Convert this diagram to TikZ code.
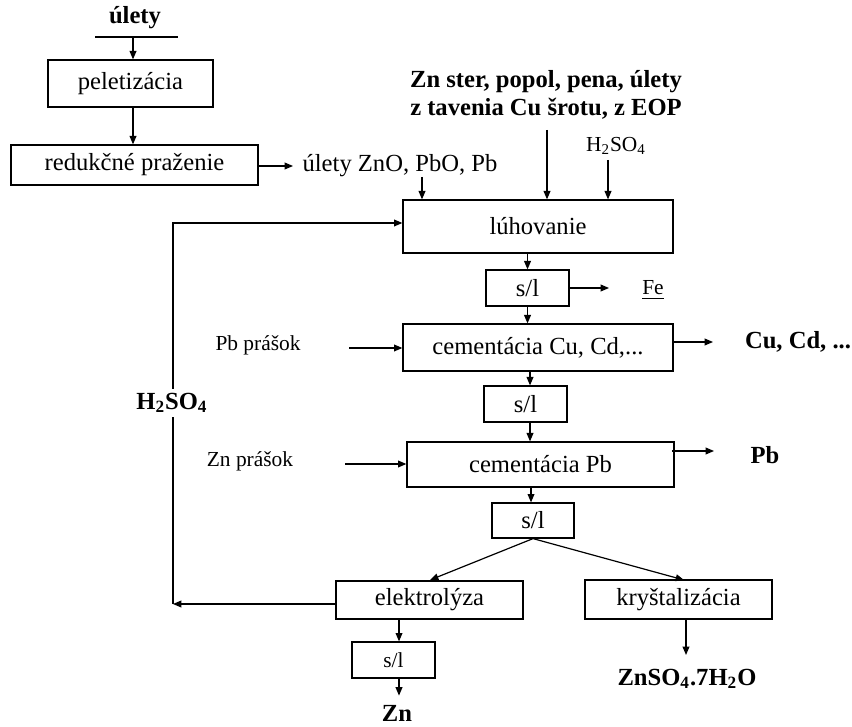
\documentclass[tikz,border=0pt]{standalone}
\usepackage{fontspec}
\setmainfont{Liberation Serif}
\usepackage{tikz}
\usetikzlibrary{arrows.meta, positioning, calc}

\begin{document}
\begin{tikzpicture}[x=0.5pt, y=-0.5pt, line width=0.6pt,
    >={Triangle[length=4.2pt, width=3.4pt]},
    every node/.style={font=\fontsize{12.3}{14}\selectfont, inner sep=0pt},
    proc/.style={draw, fill=white},
    small/.style={font=\fontsize{10.7}{13}\selectfont},
    prod/.style={font=\fontsize{12.3}{14}\selectfont\bfseries}]

    \useasboundingbox (0,0) rectangle (852,727);

    % ============================================================
    % PELETIZATION AND REDUCTION ROASTING
    % ============================================================
    \node[prod] (ulety) at (135,18) {úlety};
    \coordinate (ulL) at (95,37);
    \coordinate (ulR) at (178,37);
    \coordinate (ulA) at (133,37);
    \draw (ulL) -- (ulR);

    \node[proc, minimum width=82.5pt, minimum height=23.5pt]
        (pelet) at (130.5,83.5) {peletizácia};
    \node[proc, minimum width=123.5pt, minimum height=20pt]
        (redukc) at (134.5,165) {redukčné praženie};
    \node[anchor=west] (ulZnO) at (302,166) {úlety ZnO, PbO, Pb};

    \draw[->] (ulA) -- (ulA |- pelet.north);
    \draw[->] (ulA |- pelet.south) -- (ulA |- redukc.north);
    \coordinate (redA) at (293,166);
    \draw[->] (redukc.east |- redA) -- (redA);

    % ============================================================
    % LEACHING
    % ============================================================
    \node[prod, align=center] (zster) at (546,95)
        {Zn ster, popol, pena, úlety\\z tavenia Cu šrotu, z EOP};
    \node[small] (hsoTop) at (616,146) {H\textsubscript{2}SO\textsubscript{4}};
    \node[proc, minimum width=135pt, minimum height=26.5pt]
        (luhov) at (538,226.5) {lúhovanie};

    \coordinate (znoA) at (422,177);
    \coordinate (zsA) at (547,130);
    \coordinate (hsA) at (608,160);
    \draw[->] (znoA) -- (znoA |- luhov.north);
    \draw[->] (zsA) -- (zsA |- luhov.north);
    \draw[->] (hsA) -- (hsA |- luhov.north);

    % ============================================================
    % SEPARATION OF Fe
    % ============================================================
    \node[proc, minimum width=41.5pt, minimum height=18pt]
        (sl1) at (527.5,288) {s/l};
    \node (fe) at (653,290) {\fontsize{10.7}{13}\selectfont\underline{Fe}};
    \coordinate (feA) at (609,288);

    \draw[->] (sl1.north |- luhov.south) -- (sl1.north);
    \draw[->] (sl1.east) -- (feA);

    % ============================================================
    % CEMENTATION Cu, Cd
    % ============================================================
    \node[small] (pbPras) at (258,345) {Pb prášok};
    \node[proc, minimum width=135pt, minimum height=23.5pt]
        (cemCu) at (538,347.5) {cementácia Cu, Cd,...};
    \node[prod] (cucd) at (798,342) {Cu, Cd, ...};
    \node[proc, minimum width=41.5pt, minimum height=18pt]
        (sl2) at (525.5,404) {s/l};

    \coordinate (pbA) at (349,348);
    \coordinate (cuA) at (673,342);
    \coordinate (cuB) at (713,342);
    \coordinate (cmA) at (530,371);
    \draw[->] (sl1.south) -- (sl1.south |- cemCu.north);
    \draw[->] (pbA) -- (pbA -| cemCu.west);
    \draw[->] (cuA) -- (cuB);
    \draw[->] (cmA |- cemCu.south) -- (cmA |- sl2.north);

    % ============================================================
    % CEMENTATION Pb
    % ============================================================
    \node[small] (znPras) at (250,461) {Zn prášok};
    \node[proc, minimum width=133.5pt, minimum height=22.5pt]
        (cemPb) at (540.5,464.5) {cementácia Pb};
    \node[prod] (pb) at (765,455) {Pb};
    \node[proc, minimum width=41pt, minimum height=17.5pt]
        (sl3) at (533,520.5) {s/l};

    \coordinate (znA) at (345,464);
    \coordinate (pbB) at (672,451);
    \coordinate (pbC) at (714,451);
    \coordinate (cpA) at (531,487);
    \draw[->] (cmA |- sl2.south) -- (cmA |- cemPb.north);
    \draw[->] (znA) -- (znA -| cemPb.west);
    \draw[->] (pbB) -- (pbC);
    \draw[->] (cpA) -- (cpA |- sl3.north);

    % ============================================================
    % ELECTROLYSIS / CRYSTALLIZATION
    % ============================================================
    \node[proc, minimum width=93.5pt, minimum height=19pt]
        (elektr) at (429.5,600) {elektrolýza};
    \node[proc, minimum width=93.5pt, minimum height=19.5pt]
        (kryst) at (678.5,599.5) {kryštalizácia};
    \node[proc, small, minimum width=41.5pt, minimum height=18pt]
        (sl4) at (393.5,660) {s/l};
    \node[prod] (zn) at (397,713) {Zn};
    \node[prod] (znso) at (687,679) {ZnSO\textsubscript{4}.7H\textsubscript{2}O};

    \coordinate (elA) at (430,580);
    \coordinate (krA) at (684,580);
    \coordinate (slA) at (399,619);
    \coordinate (zkA) at (686,655);
    \draw[->] (sl3.south) -- (elA);
    \draw[->] (sl3.south) -- (krA);
    \draw[->] (slA) -- (slA |- sl4.north);
    \draw[->] (slA |- sl4.south) -- ++(0,17);
    \draw[->] (zkA |- kryst.south) -- (zkA);

    % ============================================================
    % H2SO4 RETURN
    % ============================================================
    \coordinate (fbB) at (173,604);
    \coordinate (fbT) at (173,223);
    \draw[->] (elektr.west |- fbB) -- (fbB);
    \draw[->] (fbB) -- (fbT) -- (fbT -| luhov.west);
    \node[prod, fill=white, inner sep=2pt] (hsoRet) at (172,403)
        {H\textsubscript{2}SO\textsubscript{4}};

\end{tikzpicture}
\end{document}
